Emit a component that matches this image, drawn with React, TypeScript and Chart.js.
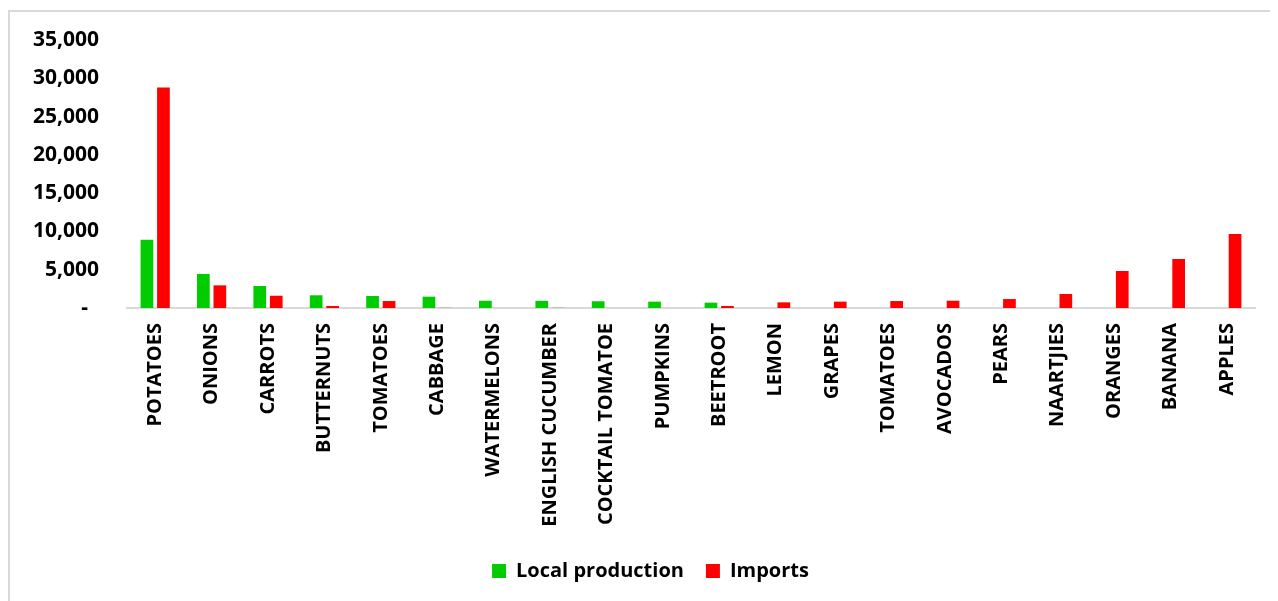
import React, { useEffect, useRef } from "react";
import { Chart, registerables } from "chart.js";

Chart.register(...registerables);

const categories = [
  "POTATOES", "ONIONS", "CARROTS", "BUTTERNUTS", "TOMATOES", "CABBAGE",
  "WATERMELONS", "ENGLISH CUCUMBER", "COCKTAIL TOMATOE", "PUMPKINS", "BEETROOT",
  "LEMON", "GRAPES", "TOMATOES", "AVOCADOS", "PEARS", "NAARTJIES", "ORANGES",
  "BANANA", "APPLES",
];

const localProduction = [8900, 4450, 2870, 1660, 1570, 1480, 950, 930, 880, 830, 700, 0, 0, 0, 0, 0, 0, 0, 0, 0];
const imports = [28800, 2960, 1600, 260, 910, 20, 0, 20, 0, 0, 260, 740, 830, 910, 950, 1170, 1830, 4830, 6400, 9660];

const yTicks = [0, 5000, 10000, 15000, 20000, 25000, 30000, 35000];

const FONT = "'Open Sans', sans-serif";

const shiftLegend = {
  id: "shiftLegend",
  afterLayout(chart: any) {
    const l = chart.legend;
    if (l) {
      l.left += 18;
      l.right += 18;
    }
  },
};

export default function App() {
  const ref = useRef<HTMLCanvasElement | null>(null);

  useEffect(() => {
    document.documentElement.style.overflow = "hidden";
    const canvas = ref.current;
    if (!canvas) return;
    const chart = new Chart(canvas, {
      type: "bar",
      data: {
        labels: categories,
        datasets: [
          {
            label: "Local production",
            data: localProduction,
            backgroundColor: "#00CC00",
            categoryPercentage: 0.585,
            barPercentage: 0.77,
          },
          {
            label: "Imports",
            data: imports,
            backgroundColor: "#FF0000",
            categoryPercentage: 0.585,
            barPercentage: 0.77,
          },
        ],
      },
      plugins: [shiftLegend],
      options: {
        animation: false,
        responsive: false,
        maintainAspectRatio: false,
        layout: { padding: { left: 0, right: 21, top: 28, bottom: 17 } },
        plugins: {
          tooltip: { enabled: false },
          legend: {
            position: "bottom",
            labels: {
              boxWidth: 14,
              boxHeight: 14,
              padding: 22,
              color: "#000",
              font: { family: FONT, size: 20, weight: "bold" },
            },
          },
        },
        scales: {
          x: {
            grid: { display: false, drawTicks: false },
            border: { display: true, color: "#d9d9d9", width: 2 },
            ticks: {
              autoSkip: false,
              maxRotation: 90,
              minRotation: 90,
              padding: 15,
              color: "#000",
              font: { family: FONT, size: 20, weight: "bold" },
            },
            afterFit: (s: any) => {
              s.height = 231;
              s.paddingLeft = 0;
              s.paddingRight = 0;
            },
          },
          y: {
            min: 0,
            max: 35000,
            afterBuildTicks: (s: any) => {
              s.ticks = yTicks.map((v) => ({ value: v }));
            },
            grid: { display: false, drawTicks: false },
            border: { display: false },
            ticks: {
              padding: 28,
              color: "#000",
              font: { family: FONT, size: 21, weight: "bold" },
              callback: (v: any) => (Number(v) === 0 ? "-  " : Number(v).toLocaleString("en-US")),
            },
            afterFit: (s: any) => {
              s.width = 117;
              s.paddingTop = 0;
              s.paddingBottom = 0;
            },
          },
        },
      },
    });
    return () => chart.destroy();
  }, []);

  return (
    <div
      style={{
        marginTop: 2,
        width: 1290,
        height: 610,
        borderLeft: "2px solid #d9d9d9",
        borderTop: "2px solid #d9d9d9",
        boxSizing: "border-box",
        position: "relative",
        background: "#fff",
      }}
    >
      <canvas ref={ref} width={1266} height={596} style={{ display: "block" }} />
    </div>
  );
}
